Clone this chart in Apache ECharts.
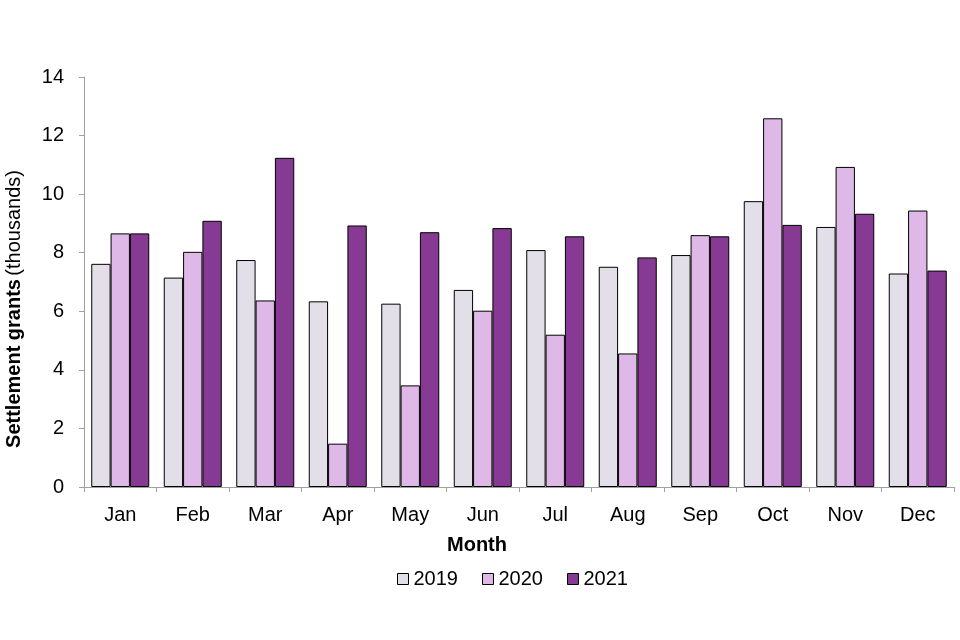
<!DOCTYPE html>
<html>
<head>
<meta charset="utf-8">
<script src="https://cdn.jsdelivr.net/npm/echarts@6/dist/echarts.min.js"></script>
<style>html,body{margin:0;padding:0;background:#fff}#c{width:960px;height:640px}</style>
</head>
<body>
<div id="c"></div>
<script>
const months = ['Jan','Feb','Mar','Apr','May','Jun','Jul','Aug','Sep','Oct','Nov','Dec'];
const s2019 = [7.62, 7.15, 7.75, 6.34, 6.26, 6.73, 8.09, 7.52, 7.92, 9.76, 8.88, 7.29];
const s2020 = [8.66, 8.03, 6.37, 1.48, 3.47, 6.02, 5.20, 4.56, 8.60, 12.59, 10.93, 9.44];
const s2021 = [8.66, 9.09, 11.24, 8.93, 8.70, 8.84, 8.56, 7.84, 8.56, 8.95, 9.33, 7.39];
const seriesNames = ['2019','2020','2021'];
const colors = ['#E3DFE8','#DEB9E7','#863A93'];

const font = 'Liberation Sans, Arial, sans-serif';
const chart = echarts.init(document.getElementById('c'));
const data = [s2019, s2020, s2021];
chart.setOption({
  animation: false,
  textStyle: {fontFamily: font},
  grid: {left: 84, right: 6, top: 77, bottom: 153, containLabel: false, outerBoundsMode: 'none'},
  legend: {
    data: seriesNames,
    left: 392, top: 564,
    itemWidth: 11, itemHeight: 11, itemGap: 24,
    icon: 'rect',
    textStyle: {fontSize: 20, color: '#000', fontFamily: font},
    itemStyle: {borderColor: '#000', borderWidth: 1}
  },
  xAxis: {
    type: 'category',
    data: months,
    name: 'Month',
    nameLocation: 'middle',
    nameGap: 48,
    nameTextStyle: {fontSize: 20, fontWeight: 'bold', color: '#000', padding: [0, 84, 0, 0]},
    axisLine: {lineStyle: {color: '#A0A0A0', width: 1}},
    axisTick: {show: true, length: 5, lineStyle: {color: '#A0A0A0'}},
    axisLabel: {fontSize: 20, color: '#000', margin: 18},
    splitLine: {show: false}
  },
  yAxis: {
    type: 'value',
    min: 0, max: 14, interval: 2,
    name: '{b|Settlement grants} {n|(thousands)}',
    nameLocation: 'middle',
    nameRotate: 90,
    nameGap: 60,
    nameTextStyle: {
      color: '#000',
      padding: [0, 54, 0, 0],
      rich: {
        b: {fontSize: 20, fontWeight: 'bold', color: '#000', fontFamily: font},
        n: {fontSize: 20, color: '#000', fontFamily: font}
      }
    },
    axisLine: {show: true, lineStyle: {color: '#A0A0A0', width: 1}},
    axisTick: {show: true, length: 5, lineStyle: {color: '#A0A0A0'}},
    axisLabel: {fontSize: 20, color: '#000', margin: 20},
    splitLine: {show: false}
  },
  series: seriesNames.map((n, i) => ({
    name: n,
    type: 'bar',
    data: data[i],
    barGap: '0%',
    barCategoryGap: '20%',
    itemStyle: {color: colors[i], borderColor: '#000', borderWidth: 1}
  }))
});
</script>
</body>
</html>
